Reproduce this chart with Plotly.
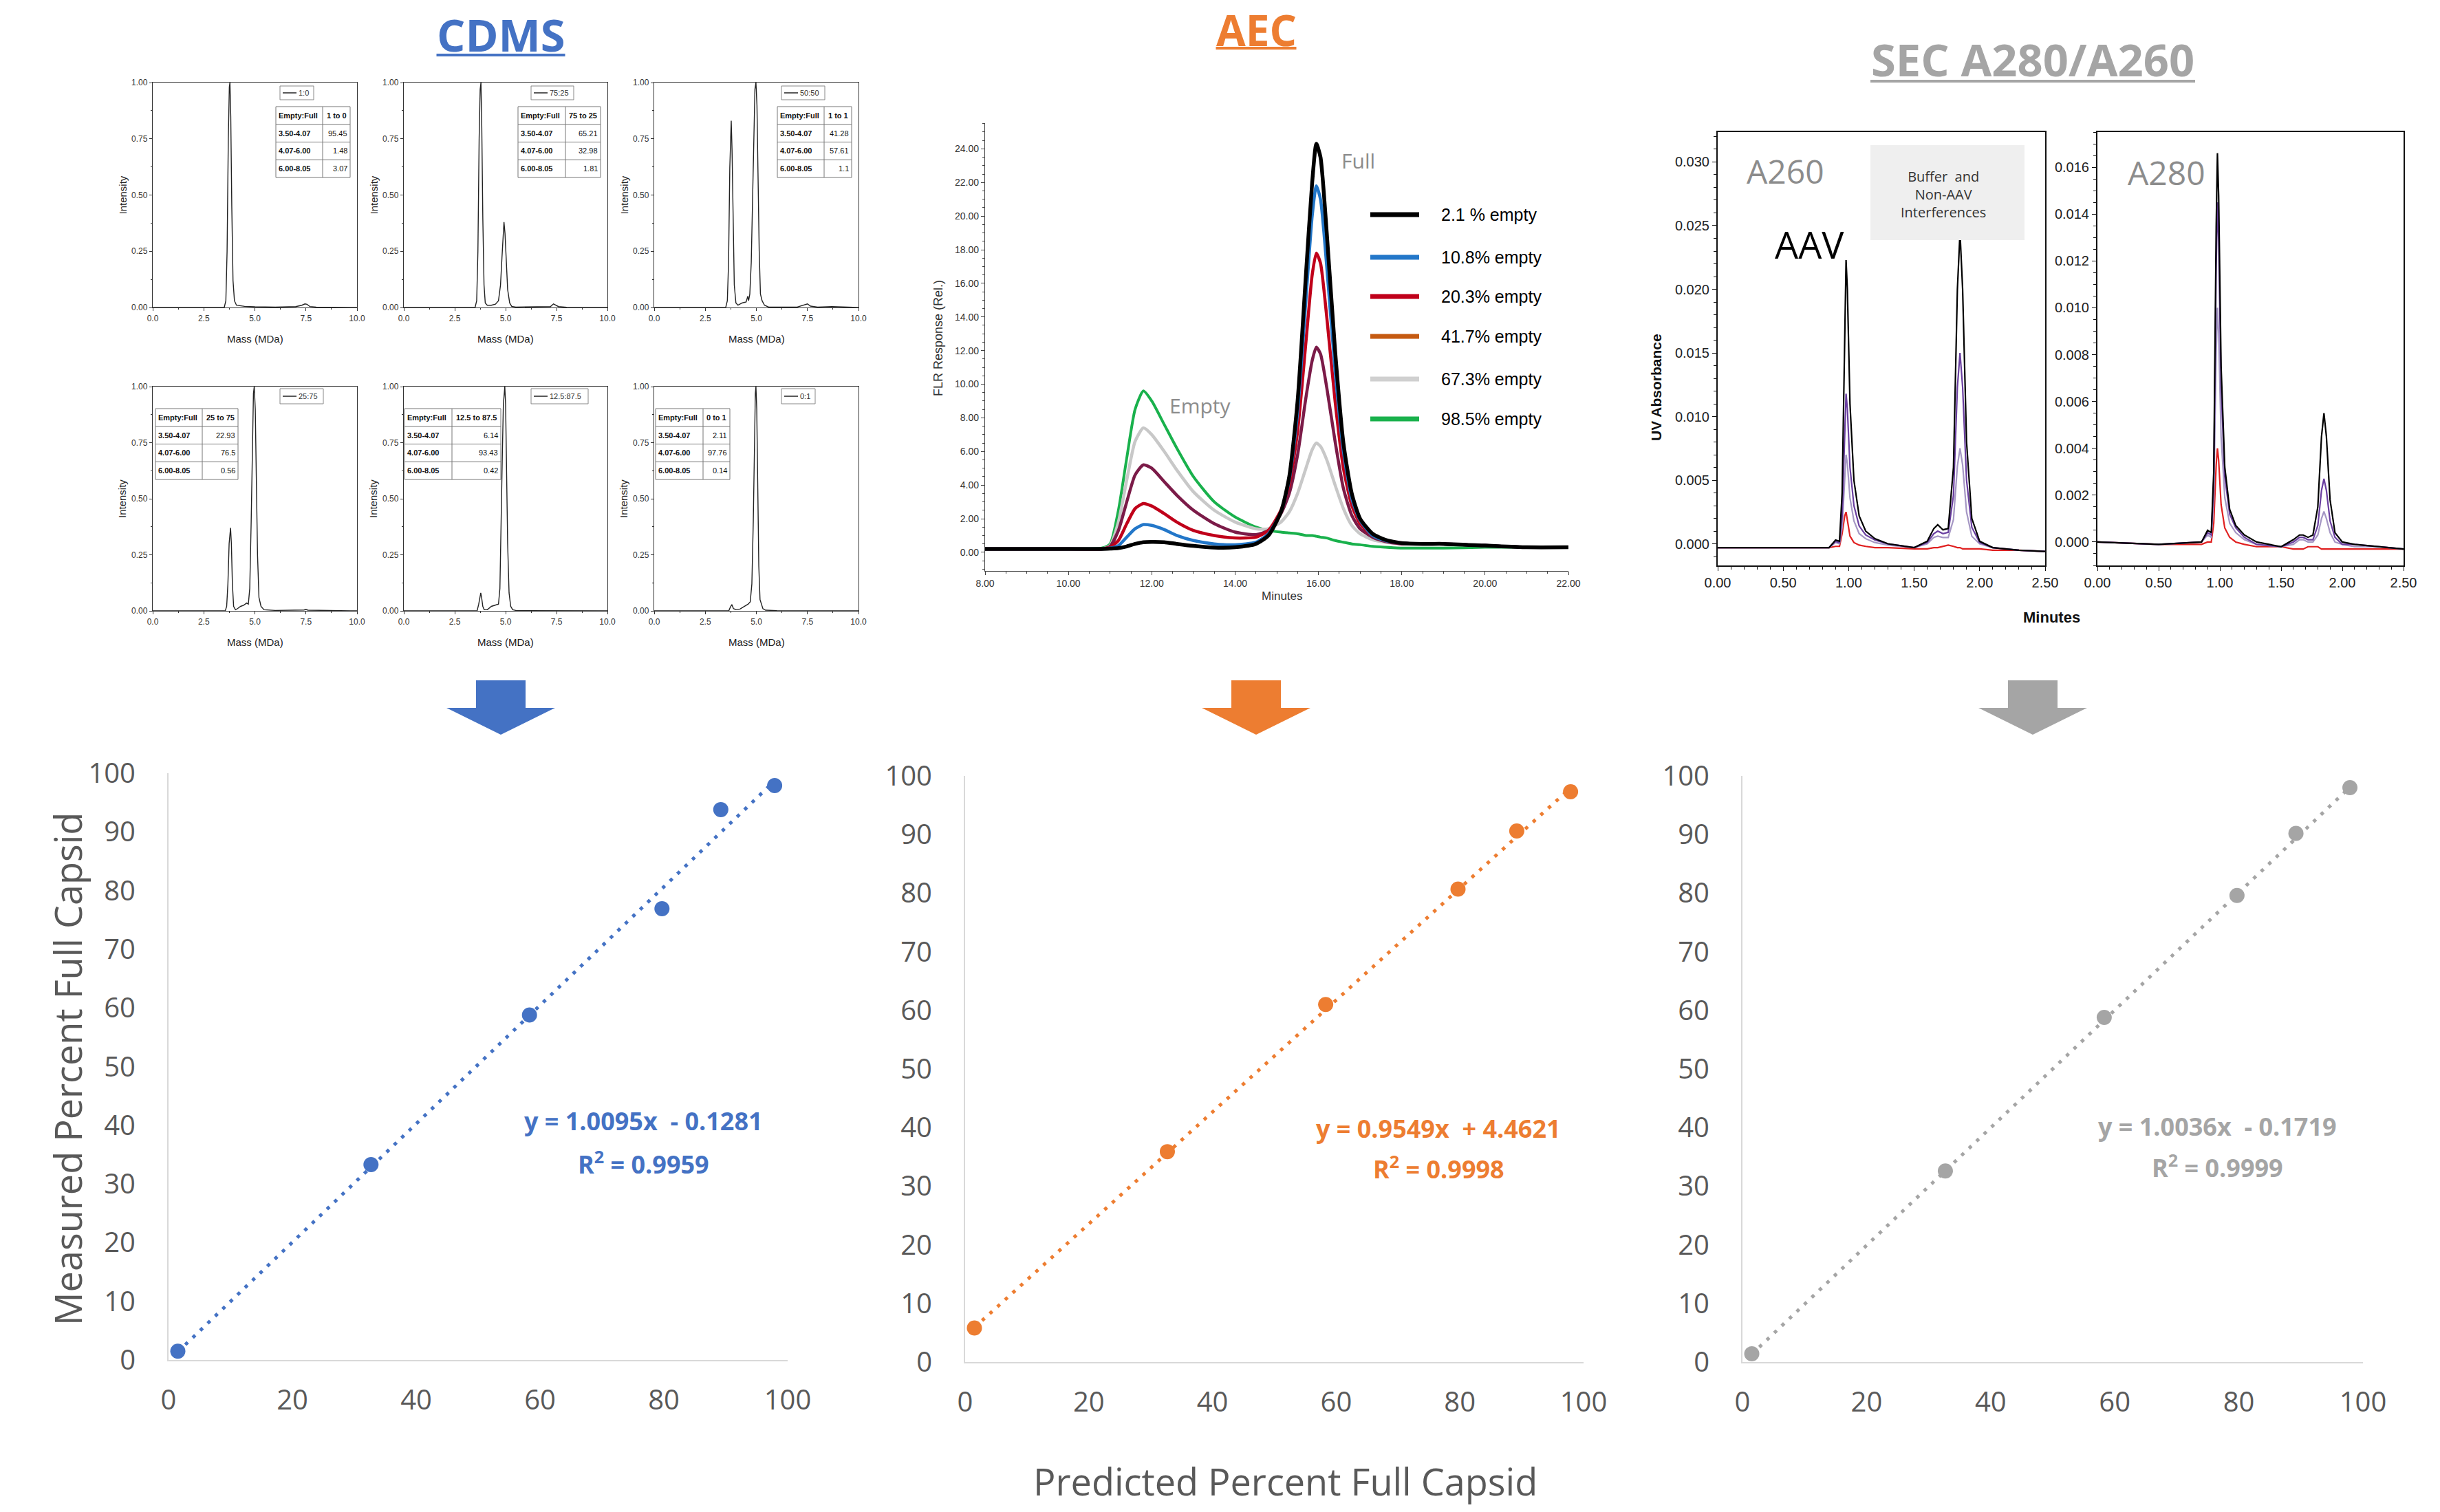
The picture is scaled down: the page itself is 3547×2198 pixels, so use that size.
import plotly.graph_objects as go

W, H = 3547, 2198

# ======================= DATA =======================
cdms_legend = ["1:0", "75:25", "50:50", "25:75", "12.5:87.5", "0:1"]
cdms_ratio_header = ["1 to 0", "75 to 25", "1 to 1", "25 to 75", "12.5 to 87.5", "0 to 1"]
cdms_bins = ["3.50-4.07", "4.07-6.00", "6.00-8.05"]
cdms_bin_values = [
    ["95.45", "1.48", "3.07"],
    ["65.21", "32.98", "1.81"],
    ["41.28", "57.61", "1.1"],
    ["22.93", "76.5", "0.56"],
    ["6.14", "93.43", "0.42"],
    ["2.11", "97.76", "0.14"],
]
mass_1to0 = [0, 3.50, 3.58, 3.64, 3.70, 3.75, 3.78, 3.82, 3.87, 3.93, 4.00, 4.10, 4.5, 5.0, 6.0, 7.0, 7.3, 7.45, 7.55, 7.7, 8.0, 9.0, 10.0]
int_1to0 = [0, 0, 0.03, 0.25, 0.75, 0.98, 1.0, 0.85, 0.45, 0.12, 0.03, 0.01, 0.005, 0.003, 0.002, 0.004, 0.01, 0.016, 0.014, 0.004, 0.002, 0.001, 0]
mass_75to25 = [0, 3.50, 3.58, 3.64, 3.70, 3.75, 3.79, 3.83, 3.88, 3.94, 4.00, 4.10, 4.30, 4.50, 4.65, 4.75, 4.82, 4.88, 4.92, 4.97, 5.03, 5.10, 5.20, 5.30, 5.5, 6.5, 7.2, 7.35, 7.45, 7.6, 8.0, 10.0]
int_75to25 = [0, 0, 0.03, 0.25, 0.75, 0.97, 1.0, 0.8, 0.4, 0.1, 0.02, 0.01, 0.01, 0.015, 0.03, 0.1, 0.22, 0.33, 0.38, 0.33, 0.2, 0.08, 0.02, 0.005, 0.002, 0.002, 0.004, 0.016, 0.012, 0.004, 0.001, 0]
mass_50to50 = [0, 3.50, 3.58, 3.64, 3.70, 3.74, 3.77, 3.81, 3.86, 3.92, 4.00, 4.10, 4.30, 4.50, 4.58, 4.62, 4.68, 4.75, 4.82, 4.88, 4.93, 4.98, 5.03, 5.08, 5.14, 5.20, 5.28, 5.40, 5.6, 7.0, 7.35, 7.5, 7.65, 8.0, 8.7, 10.0]
int_50to50 = [0, 0, 0.03, 0.2, 0.62, 0.8, 0.83, 0.7, 0.35, 0.1, 0.02, 0.01, 0.02, 0.025, 0.05, 0.03, 0.06, 0.2, 0.5, 0.82, 0.97, 1.0, 0.9, 0.6, 0.25, 0.06, 0.03, 0.01, 0.002, 0.002, 0.012, 0.016, 0.006, 0.002, 0.004, 0]
mass_25to75 = [0, 3.55, 3.62, 3.68, 3.74, 3.78, 3.81, 3.85, 3.90, 3.96, 4.05, 4.15, 4.3, 4.45, 4.6, 4.68, 4.75, 4.82, 4.88, 4.93, 4.97, 5.02, 5.07, 5.13, 5.20, 5.30, 5.45, 6.0, 7.4, 7.5, 7.6, 10.0]
int_25to75 = [0, 0, 0.02, 0.12, 0.3, 0.36, 0.37, 0.3, 0.12, 0.02, 0.005, 0.01, 0.02, 0.025, 0.035, 0.03, 0.1, 0.4, 0.8, 0.97, 1.0, 0.9, 0.6, 0.25, 0.06, 0.02, 0.005, 0.002, 0.004, 0.006, 0.003, 0]
mass_12to87 = [0, 3.6, 3.68, 3.74, 3.78, 3.82, 3.88, 3.95, 4.1, 4.3, 4.5, 4.65, 4.72, 4.78, 4.84, 4.89, 4.93, 4.96, 5.0, 5.05, 5.1, 5.17, 5.25, 5.35, 5.5, 6.0, 10.0]
int_12to87 = [0, 0, 0.03, 0.07, 0.08, 0.06, 0.02, 0.005, 0.005, 0.02, 0.025, 0.03, 0.1, 0.35, 0.7, 0.92, 0.99, 1.0, 0.92, 0.65, 0.3, 0.08, 0.02, 0.005, 0.002, 0.001, 0]
mass_0to1 = [0, 3.65, 3.72, 3.8, 3.88, 4.0, 4.2, 4.4, 4.6, 4.7, 4.78, 4.85, 4.9, 4.95, 4.98, 5.02, 5.07, 5.12, 5.18, 5.24, 5.32, 5.45, 6.0, 10.0]
int_0to1 = [0, 0, 0.015, 0.028, 0.01, 0.005, 0.008, 0.02, 0.03, 0.04, 0.12, 0.4, 0.75, 0.97, 1.0, 0.9, 0.55, 0.2, 0.05, 0.03, 0.01, 0.003, 0.001, 0]

aec_labels = ["2.1 % empty", "10.8% empty", "20.3% empty", "41.7% empty", "67.3% empty", "98.5% empty"]
aec_minutes = [8.0, 9.0, 10.0, 10.8, 11.0, 11.2, 11.4, 11.6, 11.8, 12.0, 12.3, 12.6, 13.0, 13.5, 14.0, 14.5, 14.8, 15.1, 15.3, 15.5, 15.7, 15.85, 15.95, 16.05, 16.2, 16.4, 16.6, 16.8, 17.0, 17.3, 17.6, 18.0, 18.5, 19.0, 20.0, 21.0, 22.0]
aec_2p1 = [0.2, 0.2, 0.2, 0.2, 0.22, 0.25, 0.35, 0.5, 0.6, 0.62, 0.6, 0.5, 0.38, 0.28, 0.3, 0.5, 1.0, 2.4, 4.5, 9.0, 16.5, 22.0, 24.3, 23.5, 19.0, 12.0, 6.5, 3.5, 2.0, 1.1, 0.75, 0.55, 0.5, 0.5, 0.4, 0.3, 0.3]
aec_10p8 = [0.2, 0.2, 0.2, 0.2, 0.25, 0.4, 0.9, 1.4, 1.65, 1.6, 1.35, 1.0, 0.7, 0.5, 0.45, 0.6, 1.1, 2.4, 4.3, 8.3, 15.0, 20.0, 21.8, 21.0, 17.0, 10.8, 6.0, 3.2, 1.9, 1.0, 0.7, 0.55, 0.5, 0.5, 0.4, 0.3, 0.3]
aec_20p3 = [0.2, 0.2, 0.2, 0.2, 0.3, 0.7, 1.7, 2.6, 2.9, 2.75, 2.3, 1.8, 1.3, 1.0, 0.85, 0.9, 1.3, 2.5, 4.0, 7.2, 12.5, 16.5, 17.8, 17.2, 14.0, 9.0, 5.0, 2.8, 1.7, 1.0, 0.7, 0.55, 0.5, 0.5, 0.4, 0.3, 0.3]
aec_41p7 = [0.2, 0.2, 0.2, 0.2, 0.35, 1.3, 3.0, 4.6, 5.2, 5.0, 4.2, 3.4, 2.5, 1.7, 1.2, 1.05, 1.3, 2.3, 3.5, 5.8, 9.2, 11.4, 12.2, 11.8, 9.8, 6.6, 3.8, 2.2, 1.4, 0.9, 0.65, 0.5, 0.5, 0.5, 0.4, 0.3, 0.3]
aec_67p3 = [0.2, 0.2, 0.2, 0.2, 0.4, 1.8, 4.3, 6.6, 7.4, 7.0, 6.0, 4.9, 3.6, 2.5, 1.8, 1.4, 1.4, 1.8, 2.4, 3.5, 5.0, 6.1, 6.5, 6.3, 5.5, 4.0, 2.6, 1.6, 1.1, 0.75, 0.6, 0.5, 0.5, 0.5, 0.4, 0.3, 0.3]
aec_98p5 = [0.2, 0.2, 0.2, 0.25, 0.5, 2.5, 5.6, 8.5, 9.6, 9.0, 7.6, 6.2, 4.5, 3.0, 2.1, 1.5, 1.3, 1.2, 1.15, 1.1, 1.0, 1.0, 0.95, 0.9, 0.85, 0.7, 0.6, 0.5, 0.45, 0.35, 0.3, 0.25, 0.25, 0.25, 0.3, 0.3, 0.3]

sec_minutes = [0.00, 0.50, 0.85, 0.90, 0.93, 0.95, 0.97, 0.98, 0.99, 1.01, 1.04, 1.08, 1.13, 1.20, 1.30, 1.50, 1.60, 1.65, 1.68, 1.72, 1.76, 1.80, 1.83, 1.85, 1.87, 1.90, 1.94, 2.00, 2.10, 2.30, 2.50]
a260_black = [-0.0003, -0.0003, -0.0003, 0.0003, 0.0002, 0.004, 0.018, 0.0223, 0.020, 0.011, 0.005, 0.0022, 0.0010, 0.0004, 0.0000, -0.0003, 0.0002, 0.0012, 0.0015, 0.0011, 0.0012, 0.006, 0.020, 0.0245, 0.020, 0.008, 0.002, 0.0002, -0.0003, -0.0005, -0.0006]
a260_purple = [-0.0003, -0.0003, -0.0003, 0.0002, 0.0001, 0.0022, 0.0095, 0.0118, 0.0106, 0.006, 0.003, 0.0014, 0.0007, 0.0003, 0.0000, -0.0003, 0.0001, 0.0008, 0.0010, 0.0008, 0.0009, 0.0038, 0.0123, 0.0150, 0.0123, 0.005, 0.0013, 0.0001, -0.0003, -0.0005, -0.0006]
a260_lavender = [-0.0003, -0.0003, -0.0003, 0.0001, 0.0000, 0.0013, 0.0056, 0.0070, 0.0063, 0.0036, 0.0018, 0.0008, 0.0004, 0.0001, -0.0001, -0.0003, 0.0000, 0.0005, 0.0006, 0.0005, 0.0005, 0.0019, 0.0061, 0.0075, 0.0062, 0.0025, 0.0006, 0.0000, -0.0003, -0.0005, -0.0006]
a260_red = [-0.0003, -0.0003, -0.0003, -0.0002, -0.0002, 0.0008, 0.0022, 0.0025, 0.0018, 0.0006, 0.0001, -0.0001, -0.0002, -0.0003, -0.0003, -0.0004, -0.0004, -0.0003, -0.0003, -0.0002, -0.0001, -0.0002, -0.0003, -0.0003, -0.0004, -0.0004, -0.0004, -0.0004, -0.0005, -0.0005, -0.0006]
a280_black = [0.0000, -0.0001, 0.0000, 0.0005, 0.0004, 0.003, 0.0135, 0.0166, 0.0148, 0.0075, 0.0032, 0.0014, 0.0007, 0.0003, 0.0000, -0.0002, 0.0001, 0.0003, 0.0003, 0.0002, 0.0003, 0.0015, 0.0045, 0.0055, 0.0045, 0.0018, 0.0004, 0.0000, -0.0001, -0.0002, -0.0003]
a280_purple = [0.0000, -0.0001, 0.0000, 0.0004, 0.0003, 0.0026, 0.0118, 0.0145, 0.0129, 0.0066, 0.0028, 0.0012, 0.0006, 0.0002, -0.0001, -0.0002, 0.0000, 0.0002, 0.0002, 0.0001, 0.0001, 0.0007, 0.0022, 0.0027, 0.0022, 0.0009, 0.0002, -0.0001, -0.0001, -0.0002, -0.0003]
a280_lavender = [0.0000, -0.0001, 0.0000, 0.0003, 0.0002, 0.0018, 0.0081, 0.0100, 0.0089, 0.0045, 0.0019, 0.0008, 0.0004, 0.0001, -0.0001, -0.0002, -0.0001, 0.0001, 0.0001, 0.0000, 0.0000, 0.0003, 0.0010, 0.0013, 0.0010, 0.0004, 0.0000, -0.0001, -0.0002, -0.0002, -0.0003]
a280_red = [0.0000, -0.0001, -0.0001, 0.0000, 0.0000, 0.0008, 0.0033, 0.0040, 0.0035, 0.0016, 0.0006, 0.0002, 0.0000, -0.0001, -0.0002, -0.0002, -0.0003, -0.0003, -0.0003, -0.0002, -0.0002, -0.0002, -0.0003, -0.0003, -0.0003, -0.0003, -0.0003, -0.0003, -0.0003, -0.0003, -0.0003]

predicted_full = [1.5, 32.7, 58.3, 79.7, 89.2, 97.9]
cdms_measured = [1.5, 33.3, 58.8, 76.9, 93.8, 97.9]
aec_measured = [5.8, 35.9, 61.0, 80.7, 90.6, 97.3]
sec_measured = [1.4, 32.6, 58.8, 79.6, 90.2, 98.0]
fit_slopes = [1.0095, 0.9549, 1.0036]
fit_intercepts = [-0.1281, 4.4621, -0.1719]
fit_r2 = ["0.9959", "0.9998", "0.9999"]
fit_eq_text = ["y = 1.0095x &nbsp;- 0.1281", "y = 0.9549x &nbsp;+ 4.4621", "y = 1.0036x &nbsp;- 0.1719"]
method_titles = ["CDMS", "AEC", "SEC A280/A260"]

# ======================= HELPERS =======================
BLUE, ORANGE, GRAY = "#4472C4", "#ED7D31", "#A5A5A5"
CAL = "Open Sans"
ARIAL = "Liberation Sans"

def px_x(p):
    return p / W

def px_y(p):
    return 1 - p / H

fig = go.Figure()
axes = {}
annotations = []
shapes = []


def add_axes(i, x0, x1, y0, y1, xa, ya):
    xn = "xaxis" if i == 1 else f"xaxis{i}"
    yn = "yaxis" if i == 1 else f"yaxis{i}"
    xr = "x" if i == 1 else f"x{i}"
    yr = "y" if i == 1 else f"y{i}"
    xa = dict(xa)
    ya = dict(ya)
    xa.update(domain=[px_x(x0), px_x(x1)], anchor=yr, automargin=False)
    ya.update(domain=[px_y(y1), px_y(y0)], anchor=xr, automargin=False)
    axes[xn] = xa
    axes[yn] = ya
    return xr, yr


def ann(text, x, y, size, color="black", family=ARIAL, xanchor="center", yanchor="middle", angle=0):
    annotations.append(dict(text=text, x=px_x(x), y=px_y(y), xref="paper", yref="paper",
                            showarrow=False, xanchor=xanchor, yanchor=yanchor, textangle=angle,
                            font=dict(size=size, color=color, family=family)))


def rect(x0, y0, x1, y1, fill="rgba(0,0,0,0)", line_color=None, lw=0, layer="above"):
    shapes.append(dict(type="rect", xref="paper", yref="paper", x0=px_x(x0), x1=px_x(x1),
                       y0=px_y(y1), y1=px_y(y0), fillcolor=fill, layer=layer,
                       line=dict(color=line_color or "rgba(0,0,0,0)", width=lw)))


def seg(x0, y0, x1, y1, color, width):
    shapes.append(dict(type="line", xref="paper", yref="paper", x0=px_x(x0), x1=px_x(x1),
                       y0=px_y(y0), y1=px_y(y1), line=dict(color=color, width=width), layer="above"))


def hline(x0, x1, y, color, width):
    seg(x0, y, x1, y, color, width)


# ======================= TITLES & ARROWS =======================
# (centre x, centre y, underline width, underline y, colour, font size)
title_pos = [(728, 50, 187, 80, BLUE, 65), (1826, 43, 117, 70, ORANGE, 62), (2955, 86, 472, 118, GRAY, 65)]
for t, (cx, cy, wdt, uy, col, fs) in zip(method_titles, title_pos):
    ann(f"<b>{t}</b>", cx, cy, fs, col, CAL)
    hline(cx - wdt / 2, cx + wdt / 2, uy, col, 4)

for cx, col in [(728, BLUE), (1826, ORANGE), (2955, GRAY)]:
    pts = [(cx - 36, 989), (cx + 36, 989), (cx + 36, 1029), (cx + 79, 1029), (cx, 1068),
           (cx - 79, 1029), (cx - 36, 1029)]
    path = "M " + " L ".join(f"{px_x(a):.6f},{px_y(b):.6f}" for a, b in pts) + " Z"
    shapes.append(dict(type="path", xref="paper", yref="paper", path=path, fillcolor=col,
                       line=dict(width=0), layer="above"))

# ======================= CDMS PANELS =======================
cdms_mass = [mass_1to0, mass_75to25, mass_50to50, mass_25to75, mass_12to87, mass_0to1]
cdms_int = [int_1to0, int_75to25, int_50to50, int_25to75, int_12to87, int_0to1]
cdms_boxes = [(222, 519, 120, 447), (587, 883, 120, 447), (951, 1248, 120, 447),
              (222, 519, 562, 888), (587, 883, 562, 888), (951, 1248, 562, 888)]
table_boxes = [(401, 469, 509, 155), (753, 822, 873, 155), (1130, 1198, 1238, 155),
               (226, 294, 346, 594), (588, 657, 728, 594), (953, 1022, 1061, 594)]
legend_boxes = [(407, 456, 125, 145), (772, 834, 125, 145), (1136, 1199, 125, 145),
                (407, 470, 565, 587), (772, 855, 565, 587), (1136, 1185, 565, 587)]
ROW_H = 25.75

small_tick = dict(family=ARIAL, size=12, color="#333")
for i in range(6):
    x0, x1, y0, y1 = cdms_boxes[i]
    common = dict(showline=True, linecolor="#333", linewidth=1.3, mirror=True, ticks="outside",
                  ticklen=4, tickcolor="#333", tickfont=small_tick, showgrid=False, zeroline=False)
    xa = dict(common, range=[0, 10], tick0=0, dtick=2.5, tickformat=".1f",
              minor=dict(ticks="outside", ticklen=2, dtick=1.25, tickcolor="#333"))
    ya = dict(common, range=[0, 1.0], tick0=0, dtick=0.25, tickformat=".2f",
              minor=dict(ticks="outside", ticklen=2, dtick=0.125, tickcolor="#333"))
    xr, yr = add_axes(i + 1, x0, x1, y0, y1, xa, ya)
    fig.add_trace(go.Scatter(x=cdms_mass[i], y=cdms_int[i], mode="lines", xaxis=xr, yaxis=yr,
                             line=dict(color="#222", width=1.4), showlegend=False,
                             hoverinfo="skip", cliponaxis=True))
    ann("Intensity", x0 - 44, (y0 + y1) / 2, 15, "#222", ARIAL, angle=-90)
    ann("Mass (MDa)", (x0 + x1) / 2, y1 + 45, 15, "#222", ARIAL)

    tx0, tdiv, tx1, ty0 = table_boxes[i]
    ty1 = ty0 + 4 * ROW_H
    rect(tx0, ty0, tx1, ty1, "white", "#777", 1)
    for r in range(1, 4):
        hline(tx0, tx1, ty0 + r * ROW_H, "#777", 1)
    seg(tdiv, ty0, tdiv, ty1, "#777", 1)
    rows_left = ["<b>Empty:Full</b>"] + [f"<b>{b}</b>" for b in cdms_bins]
    rows_right = [f"<b>{cdms_ratio_header[i]}</b>"] + cdms_bin_values[i]
    for r in range(4):
        cy = ty0 + (r + 0.5) * ROW_H
        ann(rows_left[r], tx0 + 2, cy, 11, "#111", ARIAL, xanchor="left")
        if r == 0:
            ann(rows_right[r], (tdiv + tx1) / 2, cy, 11, "#111", ARIAL)
        else:
            ann(rows_right[r], tx1 - 2, cy, 11, "#111", ARIAL, xanchor="right")

    lx0, lx1, ly0, ly1 = legend_boxes[i]
    rect(lx0, ly0, lx1, ly1, "white", "#888", 1)
    hline(lx0 + 4, lx0 + 24, (ly0 + ly1) / 2, "#222", 1.5)
    ann(cdms_legend[i], lx0 + 25, (ly0 + ly1) / 2, 11, "#333", ARIAL, xanchor="left")

# ======================= AEC PANEL =======================
aec_series = [aec_98p5, aec_67p3, aec_41p7, aec_20p3, aec_10p8, aec_2p1]
aec_colors = ["#19B14C", "#C8C8C8", "#7B1B48", "#C0001A", "#2377C9", "#000000"]
aec_widths = [4, 4.5, 4.5, 4.5, 4.5, 5.5]
aec_common = dict(showline=True, linecolor="#444", linewidth=1.3, ticks="outside", ticklen=5,
                  tickcolor="#444", tickfont=dict(family=ARIAL, size=14, color="#333"),
                  showgrid=False, zeroline=False)
xr, yr = add_axes(7, 1432, 2280, 179, 830,
                  dict(aec_common, range=[8, 22], tick0=8, dtick=2, tickformat=".2f",
                       minor=dict(ticks="outside", ticklen=3, dtick=0.5, tickcolor="#444")),
                  dict(aec_common, range=[-1.11, 25.53], tick0=0, dtick=2, tickformat=".2f",
                       minor=dict(ticks="outside", ticklen=3, dtick=0.5, tickcolor="#444")))
for ys, c, w in zip(aec_series, aec_colors, aec_widths):
    fig.add_trace(go.Scatter(x=aec_minutes, y=ys, mode="lines", xaxis=xr, yaxis=yr,
                             line=dict(color=c, width=w, shape="spline", smoothing=0.6),
                             showlegend=False, hoverinfo="skip"))
ann("FLR Response (Rel.)", 1364, 492, 18, "#333", ARIAL, angle=-90)
ann("Minutes", 1864, 866, 17, "#333", ARIAL)
ann("Full", 1974, 234, 30, "#8C8C8C", CAL)
ann("Empty", 1744, 589, 30, "#8C8C8C", CAL)
legend_swatch = ["#000000", "#2377C9", "#C0001A", "#C55A11", "#D0D0D0", "#19B14C"]
legend_rows = [312, 374, 431, 489, 551, 609]
for lab, c, ry in zip(aec_labels, legend_swatch, legend_rows):
    hline(1992, 2063, ry, c, 7)
    ann(lab, 2093, ry, 25, "black", ARIAL, xanchor="left")

# ======================= SEC PANELS =======================
sec_common = dict(showline=True, linecolor="#111", linewidth=2, mirror=True, ticks="outside",
                  ticklen=6, tickcolor="#111", tickfont=dict(family=ARIAL, size=20, color="#222"),
                  showgrid=False, zeroline=False)
sec_x = dict(sec_common, range=[0, 2.5], tick0=0, dtick=0.5, tickformat=".2f",
             minor=dict(ticks="outside", ticklen=4, dtick=0.1, tickcolor="#111"))
xr8, yr8 = add_axes(8, 2497, 2973, 192, 822, sec_x,
                    dict(sec_common, range=[-0.0017, 0.03235], tick0=0, dtick=0.005, tickformat=".3f",
                         minor=dict(ticks="outside", ticklen=4, dtick=0.001, tickcolor="#111")))
xr9, yr9 = add_axes(9, 3049, 3494, 192, 822, sec_x,
                    dict(sec_common, range=[-0.001, 0.0175], tick0=0, dtick=0.002, tickformat=".3f",
                         minor=dict(ticks="outside", ticklen=4, dtick=0.0005, tickcolor="#111")))
sec_colors = ["#E02020", "#A597C4", "#6A3FA0", "#000000"]
for ys, c in zip([a260_red, a260_lavender, a260_purple, a260_black], sec_colors):
    fig.add_trace(go.Scatter(x=sec_minutes, y=ys, mode="lines", xaxis=xr8, yaxis=yr8,
                             line=dict(color=c, width=2.2), showlegend=False, hoverinfo="skip"))
for ys, c in zip([a280_red, a280_lavender, a280_purple, a280_black], sec_colors):
    fig.add_trace(go.Scatter(x=sec_minutes, y=ys, mode="lines", xaxis=xr9, yaxis=yr9,
                             line=dict(color=c, width=2.2), showlegend=False, hoverinfo="skip"))
rect(2719, 211, 2943, 349, "#EFEFEF", None, 0)
ann("Buffer &nbsp;and<br>Non-AAV<br>Interferences", 2761, 282, 20, "#333", CAL, xanchor="left")
ann("A260", 2595, 249, 48, "#8C8C8C", CAL)
ann("AAV", 2630, 355, 54, "black", CAL)
ann("A280", 3149, 250, 48, "#8C8C8C", CAL)
ann("<b>UV Absorbance</b>", 2408, 563, 21, "#111", ARIAL, angle=-90)
ann("<b>Minutes</b>", 2982, 897, 22, "#111", ARIAL)

# ======================= CORRELATION PLOTS =======================
corr_boxes = [(245, 1145, 1124, 1977), (1403, 2302, 1128, 1980), (2533, 3435, 1128, 1980)]
corr_measured = [cdms_measured, aec_measured, sec_measured]
corr_colors = [BLUE, ORANGE, GRAY]
eq_pos = [(935, 1629, 1690), (2091, 1640, 1697), (3223, 1638, 1695)]
corr_common = dict(showline=True, linecolor="#D9D9D9", linewidth=2, ticks="", showgrid=False,
                   zeroline=False, tickfont=dict(family=CAL, size=40, color="#595959"))
for k in range(3):
    x0, x1, y0, y1 = corr_boxes[k]
    xr, yr = add_axes(10 + k, x0, x1, y0, y1,
                      dict(corr_common, range=[0, 100], tick0=0, dtick=20, ticklabelstandoff=22),
                      dict(corr_common, range=[0, 100], tick0=0, dtick=10, ticklabelstandoff=38))
    xs = [min(predicted_full), max(predicted_full)]
    ys = [fit_slopes[k] * v + fit_intercepts[k] for v in xs]
    fig.add_trace(go.Scatter(x=xs, y=ys, mode="lines", xaxis=xr, yaxis=yr,
                             line=dict(color=corr_colors[k], width=5, dash="5px,10px"),
                             showlegend=False, hoverinfo="skip", cliponaxis=False))
    fig.add_trace(go.Scatter(x=predicted_full, y=corr_measured[k], mode="markers", xaxis=xr, yaxis=yr,
                             marker=dict(color=corr_colors[k], size=22, line=dict(width=0)),
                             showlegend=False, hoverinfo="skip", cliponaxis=False))
    ex, ey1, ey2 = eq_pos[k]
    ann(f"<b>{fit_eq_text[k]}</b>", ex, ey1, 36, corr_colors[k], CAL)
    ann(f"<b>R<sup>2</sup> = {fit_r2[k]}</b>", ex, ey2, 36, corr_colors[k], CAL)

ann("Measured Percent Full Capsid", 98, 1554, 54, "#595959", CAL, angle=-90)
ann("Predicted Percent Full Capsid", 1868, 2153, 54, "#595959", CAL)

fig.update_layout(template="none", width=W, height=H, autosize=False,
                  margin=dict(l=0, r=0, t=0, b=0, pad=0, autoexpand=False),
                  paper_bgcolor="white", plot_bgcolor="white", showlegend=False,
                  font=dict(family=ARIAL), annotations=annotations, shapes=shapes, **axes)

fig.write_html("out.html", config={"displayModeBar": False},
               post_script="document.documentElement.style.margin='0';document.body.style.margin='0';")
